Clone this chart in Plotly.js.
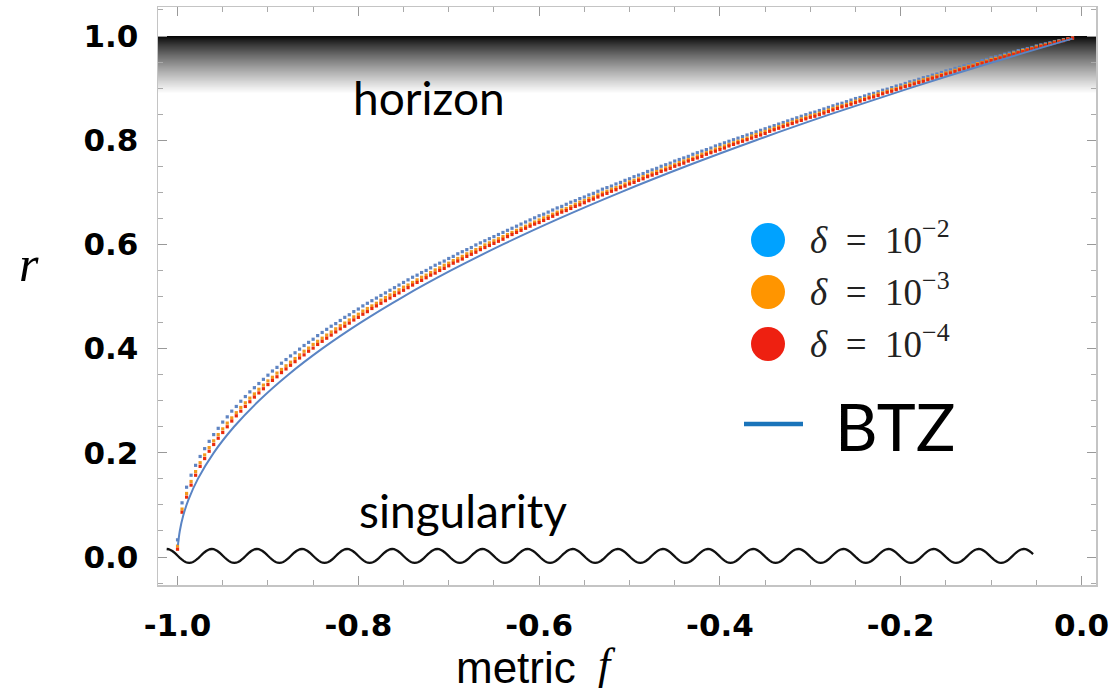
<!DOCTYPE html>
<html>
<head>
<meta charset="utf-8">
<script src="https://cdn.plot.ly/plotly-3.0.1.min.js"></script>
<style>html,body{margin:0;padding:0;background:#fff;}#chart{width:1109px;height:696px;}</style>
</head>
<body>
<div id="chart"></div>
<script>
// ---------- data ----------
// shared metric grid for the numerical series: f = fStart + k*fStep
const fStart = -1.0;
const fStep = 0.005;

const rDelta2 = [
.033,.104,.134,.157,.176,.193,.208,.222,.235,.247,
.259,.269,.280,.289,.299,.308,.317,.325,.333,.341,
.349,.357,.364,.372,.379,.386,.392,.399,.406,.412,
.418,.425,.431,.437,.443,.448,.454,.460,.465,.471,
.476,.482,.487,.492,.497,.502,.507,.512,.517,.522,
.527,.532,.537,.541,.546,.550,.555,.560,.564,.568,
.573,.577,.582,.586,.590,.594,.599,.603,.607,.611,
.615,.619,.623,.627,.631,.635,.639,.643,.647,.651,
.655,.658,.662,.666,.670,.673,.677,.681,.684,.688,
.691,.695,.698,.702,.706,.709,.712,.716,.719,.723,
.726,.730,.733,.736,.740,.743,.746,.750,.753,.756,
.760,.763,.766,.769,.773,.776,.779,.782,.785,.789,
.792,.795,.798,.801,.804,.807,.810,.813,.816,.819,
.822,.825,.828,.831,.834,.837,.840,.843,.846,.849,
.852,.854,.857,.860,.863,.866,.869,.871,.874,.877,
.880,.882,.885,.888,.890,.893,.896,.898,.901,.904,
.906,.909,.912,.914,.917,.920,.922,.925,.927,.930,
.933,.935,.938,.940,.943,.945,.948,.950,.953,.955,
.958,.960,.962,.965,.967,.969,.972,.974,.976,.978,
.981,.983,.985,.987,.989,.991,.993,.995,.997];

const rDelta3 = [
.021,.092,.122,.145,.164,.181,.196,.210,.223,.235,
.246,.257,.267,.277,.287,.296,.305,.313,.322,.330,
.338,.345,.353,.360,.367,.374,.381,.388,.395,.401,
.408,.414,.420,.426,.432,.438,.444,.449,.455,.461,
.466,.472,.477,.482,.487,.493,.498,.503,.508,.513,
.518,.522,.527,.532,.537,.541,.546,.551,.555,.560,
.564,.569,.573,.577,.582,.586,.590,.594,.599,.603,
.607,.611,.615,.619,.623,.627,.631,.635,.639,.643,
.647,.651,.654,.658,.662,.666,.669,.673,.677,.681,
.684,.688,.691,.695,.699,.702,.706,.709,.712,.716,
.720,.723,.726,.730,.733,.737,.740,.743,.747,.750,
.753,.757,.760,.763,.766,.770,.773,.776,.779,.783,
.786,.789,.792,.795,.798,.801,.804,.808,.811,.814,
.817,.820,.823,.826,.829,.832,.835,.838,.841,.844,
.847,.849,.852,.855,.858,.861,.864,.866,.869,.872,
.875,.878,.880,.883,.886,.889,.891,.894,.897,.899,
.902,.905,.908,.910,.913,.916,.918,.921,.924,.926,
.929,.931,.934,.937,.939,.942,.944,.947,.949,.952,
.955,.957,.959,.962,.964,.967,.969,.972,.974,.976,
.979,.981,.983,.985,.988,.990,.992,.994,.996];

const rDelta4 = [
.015,.086,.115,.138,.157,.174,.189,.203,.216,.228,
.239,.250,.261,.271,.280,.289,.298,.307,.315,.323,
.331,.339,.346,.354,.361,.368,.375,.382,.388,.395,
.401,.408,.414,.420,.426,.432,.438,.443,.449,.455,
.460,.466,.471,.477,.482,.487,.492,.497,.502,.507,
.512,.517,.522,.527,.531,.536,.541,.545,.550,.554,
.559,.564,.568,.572,.577,.581,.585,.590,.594,.598,
.602,.606,.610,.615,.619,.623,.627,.631,.635,.639,
.642,.646,.650,.654,.658,.662,.665,.669,.673,.676,
.680,.684,.687,.691,.695,.698,.702,.705,.709,.712,
.716,.719,.723,.726,.730,.733,.736,.740,.743,.746,
.750,.753,.756,.760,.763,.766,.769,.773,.776,.779,
.782,.785,.789,.792,.795,.798,.801,.804,.807,.810,
.813,.817,.820,.823,.826,.829,.832,.835,.838,.841,
.844,.846,.849,.852,.855,.858,.861,.864,.866,.869,
.872,.875,.878,.881,.883,.886,.889,.892,.894,.897,
.900,.903,.905,.908,.911,.913,.916,.919,.921,.924,
.927,.929,.932,.935,.937,.940,.942,.945,.948,.950,
.953,.955,.958,.960,.963,.965,.968,.970,.973,.975,
.977,.980,.982,.984,.987,.989,.991,.994,.996];

// BTZ reference curve (read points)
const btzF = [-0.9995,-0.9975,-0.9936,-0.9879,-0.9775,-0.96,-0.9375,-0.91,-0.8775,-0.84,-0.7975,-0.75,-0.6975,-0.64,-0.5775,-0.51,-0.4375,-0.36,-0.2775,-0.19,-0.0975,-0.01];
const btzR = [0.023,0.05,0.08,0.11,0.15,0.2,0.25,0.3,0.35,0.4,0.45,0.5,0.55,0.6,0.65,0.7,0.75,0.8,0.85,0.9,0.95,0.995];

const seriesNames = ['δ = 10⁻²','δ = 10⁻³','δ = 10⁻⁴'];
const legendLabels = ['<i>δ</i>\u00a0\u00a0=\u00a0\u00a010<sup>−2</sup>','<i>δ</i>\u00a0\u00a0=\u00a0\u00a010<sup>−3</sup>','<i>δ</i>\u00a0\u00a0=\u00a0\u00a010<sup>−4</sup>'];
const xTickVals = [-1.0,-0.8,-0.6,-0.4,-0.2,0.0];
const xTickText = ['-1.0','-0.8','-0.6','-0.4','-0.2','0.0'];
const yTickVals = [0.0,0.2,0.4,0.6,0.8,1.0];
const yTickText = ['0.0','0.2','0.4','0.6','0.8','1.0'];

// decoration parameters
const horizonTop = 1.0, horizonBottom = 0.89;
const wave = {start: -1.012, end: -0.0536, period: 0.0499, amp: 0.0134, center: 0.002};

// ---------- styles ----------
const dotColors = ['#5f84c2','#f39a1d','#eb2a0c'];
const legendColors = ['#00a2ff','#ff9500','#ee2011'];
const W = 1109, H = 696;
const M = {l:158, r:13, t:7, b:111};
const PW = W - M.l - M.r, PH = H - M.t - M.b;
const px2x = p => (p - M.l) / PW;
const py2y = p => (H - M.b - p) / PH;

const traces = [];
[rDelta2, rDelta3, rDelta4].forEach((arr, i) => {
  traces.push({type:'scatter', mode:'markers', name: seriesNames[i], x0: fStart, dx: fStep, y: arr,
    marker:{symbol:'square', size:3.2, color: dotColors[i], line:{width:0}}, showlegend:false, hoverinfo:'skip'});
});
traces.push({type:'scatter', mode:'lines', name:'BTZ', x: btzF, y: btzR,
  line:{color:'#5a84c4', width:2, shape:'spline', smoothing:1}, showlegend:false, hoverinfo:'skip'});

const shapes = [];
// horizon gradient band: stacked rects, lightest first, each reaching the top (no seams)
const nSlices = 60;
for (let i = nSlices - 1; i >= 0; i--) {
  const y0 = horizonTop - (horizonTop - horizonBottom) * (i + 1) / nSlices;
  const t = (i + 0.5) / nSlices;
  const g = Math.round(255 * Math.pow(t, 0.8));
  shapes.push({type:'rect', xref:'paper', yref:'y', x0:0, x1:1, y0:y0, y1:horizonTop,
    fillcolor:`rgb(${g},${g},${g})`, line:{width:0}, layer:'below'});
}
// singularity wave
let path = '';
const steps = Math.round((wave.end - wave.start) / wave.period * 24);
for (let i = 0; i <= steps; i++) {
  const x = wave.start + (wave.end - wave.start) * i / steps;
  const y = wave.center + wave.amp * Math.cos(2 * Math.PI * (x - wave.start) / wave.period);
  path += (i === 0 ? 'M' : 'L') + x.toFixed(5) + ',' + y.toFixed(5);
}
shapes.push({type:'path', xref:'x', yref:'y', path: path, line:{color:'#111', width:2.3}, layer:'above'});

// legend markers
const legendY = [240, 292, 344];
legendY.forEach((py, i) => {
  shapes.push({type:'circle', xref:'paper', yref:'paper', xsizemode:'pixel', ysizemode:'pixel',
    xanchor: px2x(768), yanchor: py2y(py), x0:-17, x1:17, y0:-17, y1:17,
    fillcolor: legendColors[i], line:{width:0}});
});
shapes.push({type:'line', xref:'paper', yref:'paper', x0: px2x(744), x1: px2x(803), y0: py2y(424), y1: py2y(424),
  line:{color:'#1a74ba', width:4.5}});

const annotations = [];
legendY.forEach((py, i) => {
  annotations.push({xref:'paper', yref:'paper', x: px2x(808), y: py2y(py - 3), xanchor:'left', yanchor:'middle',
    text: legendLabels[i], showarrow:false, font:{family:'Liberation Serif, serif', size:37, color:'#222'}});
});
annotations.push({xref:'paper', yref:'paper', x: px2x(895), y: py2y(425), xanchor:'center', yanchor:'middle',
  text:'BTZ', showarrow:false, font:{family:'Lato, sans-serif', size:66, color:'#000'}});
annotations.push({xref:'paper', yref:'paper', x: px2x(429), y: py2y(97), xanchor:'center', yanchor:'middle',
  text:'horizon', showarrow:false, font:{family:'Lato, sans-serif', size:46, color:'#000'}});
annotations.push({xref:'paper', yref:'paper', x: px2x(463), y: py2y(510), xanchor:'center', yanchor:'middle',
  text:'singularity', showarrow:false, font:{family:'Lato, sans-serif', size:46, color:'#000'}});
annotations.push({xref:'paper', yref:'paper', x: px2x(29), y: py2y(264), xanchor:'center', yanchor:'middle',
  text:'<i>r</i>', showarrow:false, font:{family:'Liberation Serif, serif', size:50, color:'#000'}});
annotations.push({xref:'paper', yref:'paper', x: px2x(516), y: py2y(667), xanchor:'center', yanchor:'middle',
  text:'metric', showarrow:false, font:{family:'Liberation Sans Narrow, Liberation Sans, sans-serif', size:44, color:'#000'}});
annotations.push({xref:'paper', yref:'paper', x: px2x(607), y: py2y(664), xanchor:'center', yanchor:'middle',
  text:'<i>f</i>', showarrow:false, font:{family:'Liberation Serif, serif', size:44, color:'#000'}});

const axisCommon = {
  ticks:'inside', ticklen:9, tickwidth:1, tickcolor:'#999',
  showline:true, linecolor:'#c4c4c4', linewidth:1.5, mirror:'allticks',
  showgrid:false, zeroline:false,
  minor:{ticks:'inside', ticklen:5, tickwidth:1, tickcolor:'#aaa', showgrid:false}
};

const layout = {
  width: W, height: H, autosize:false,
  margin: M,
  paper_bgcolor:'#fff', plot_bgcolor:'#fff',
  showlegend:false,
  xaxis: Object.assign({}, axisCommon, {range:[-1.0216, 0.016], tickmode:'array', tickvals:xTickVals, ticktext:xTickText,
    ticklabelstandoff:12, ticklabeloverflow:'allow',
    tickfont:{family:'DejaVu Sans, sans-serif', size:31, weight:'bold', color:'#000'},
    minor: Object.assign({}, axisCommon.minor, {dtick:0.05, tick0:0})}),
  yaxis: Object.assign({}, axisCommon, {range:[-0.0537, 1.0557], tickmode:'array', tickvals:yTickVals, ticktext:yTickText,
    ticklabelstandoff:12, tickfont:{family:'DejaVu Sans, sans-serif', size:31, weight:'bold', color:'#000'},
    minor: Object.assign({}, axisCommon.minor, {dtick:0.05, tick0:0})}),
  shapes: shapes,
  annotations: annotations
};

Plotly.newPlot('chart', traces, layout, {staticPlot:true, displayModeBar:false});
</script>
</body>
</html>
